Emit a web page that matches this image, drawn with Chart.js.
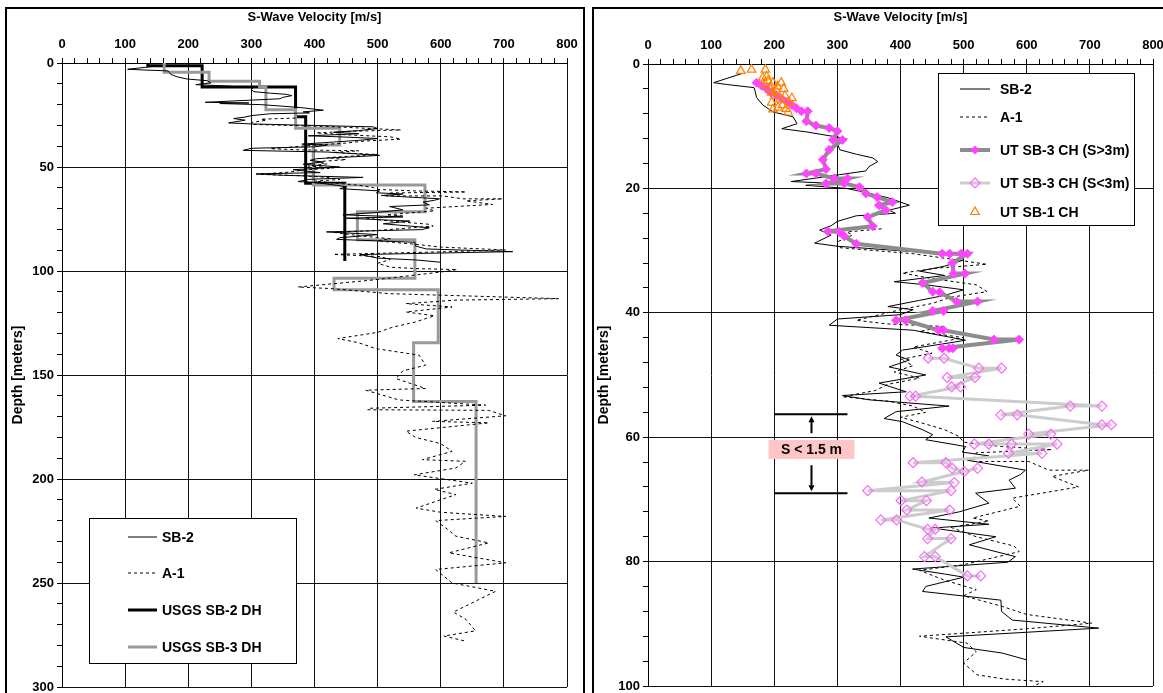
<!DOCTYPE html>
<html lang="en">
<head>
  <meta charset="UTF-8">
  <title>S-Wave Velocity profiles</title>
  <script src="https://cdn.jsdelivr.net/npm/chart.js"></script>
  <style>
    body { margin: 0; background: #fff; }
    #wrap { position: relative; width: 1163px; height: 693px; overflow: hidden; background: #fff; }
    .panel { position: absolute; top: 7px; height: 720px; border: 2px solid #000; }
    #p1 { left: 5px; width: 576px; }
    #p2 { left: 592px; width: 620px; }
    canvas { position: absolute; top: 0; }
    #c1 { left: 0; }
    #c2 { left: 588px; }
  </style>
</head>
<body>
  <div id="wrap">
    <div class="panel" id="p1"></div>
    <div class="panel" id="p2"></div>
    <canvas id="c1" width="588" height="693"></canvas>
    <canvas id="c2" width="575" height="693"></canvas>
  </div>

  <script>
    // tick labels
    const velMajor = [0, 100, 200, 300, 400, 500, 600, 700, 800];
    const depthMajorLeft = [0, 50, 100, 150, 200, 250, 300];
    const depthMajorRight = [0, 20, 40, 60, 80, 100];

    // SB-2 suspension log [velocity m/s, depth m]
    const sb2 = [
      [150, 1.5], [104, 3.0], [125, 3.3], [168, 3.8], [170, 4.5], [172, 5.4], [182, 6.6], [198, 7.7],
      [230, 8.5], [236, 9.6], [212, 10.4], [250, 10.9], [303, 11.8], [300, 12.8], [304, 13.8], [330, 14.5],
      [356, 15.1], [364, 15.7], [350, 16.5], [345, 17.2], [303, 17.8], [227, 18.9], [296, 19.2], [250, 19.5],
      [314, 20.0], [347, 20.7], [380, 21.5], [414, 22.7], [382, 23.5], [392, 24.0], [330, 24.4], [300, 25.3],
      [290, 26.0], [272, 26.7], [290, 27.5], [264, 28.8], [300, 29.3], [493, 30.7], [500, 31.5], [470, 32.5],
      [430, 33.3], [470, 34.0], [390, 35.0], [440, 35.5], [500, 36.3], [470, 37.2], [430, 38.0], [380, 39.0],
      [420, 39.5], [400, 40.3], [300, 41.0], [287, 42.0], [420, 42.8], [503, 44.4], [480, 44.8], [403, 46.0],
      [393, 46.8], [414, 47.6], [382, 48.7], [440, 50.0], [366, 51.3], [409, 52.7], [308, 53.3], [351, 54.0],
      [477, 55.0], [393, 55.9], [374, 57.0], [403, 57.5], [435, 58.8], [451, 59.6], [440, 60.4], [503, 61.5],
      [498, 62.4], [540, 63.0], [506, 63.7], [598, 65.3], [590, 66.0], [572, 66.9], [582, 68.2], [519, 69.0],
      [540, 70.6], [493, 72.0], [445, 73.0], [540, 74.0], [450, 74.6], [551, 76.0], [509, 77.3], [582, 79.2],
      [570, 80.1], [419, 81.2], [470, 82.0], [500, 82.5], [440, 84.0], [435, 84.8], [559, 86.2], [560, 88.0],
      [577, 89.4], [714, 90.7], [472, 92.1], [500, 93.8], [561, 94.7], [600, 95.8]
    ];

    // A-1 suspension log [velocity m/s, depth m]
    const a1 = [
      [370, 26.5], [315, 27.0], [324, 27.5], [300, 28.6], [300, 29.5], [420, 30.5], [537, 32.2], [460, 32.8],
      [403, 33.6], [450, 34.5], [520, 35.5], [537, 36.6], [480, 37.5], [450, 38.5], [400, 39.5], [330, 41.2],
      [380, 41.8], [470, 42.2], [430, 43.0], [500, 44.0], [420, 45.5], [450, 46.5], [400, 47.5], [420, 48.5],
      [390, 49.5], [430, 50.5], [380, 51.5], [360, 52.5], [308, 53.5], [380, 54.2], [420, 55.0], [440, 56.0],
      [400, 56.8], [430, 57.6], [470, 58.8], [493, 59.9], [500, 60.8], [560, 61.5], [640, 62.0], [520, 62.5],
      [514, 63.9], [603, 63.9], [635, 65.3], [698, 65.3], [640, 66.3], [682, 68.0], [577, 69.8], [590, 71.1],
      [514, 73.0], [540, 73.5], [480, 74.5], [520, 76.0], [580, 77.5], [588, 78.4], [500, 80.5], [430, 81.4],
      [470, 83.0], [520, 84.5], [500, 85.5], [561, 87.2], [600, 88.5], [703, 89.9], [600, 90.8], [430, 92.0],
      [505, 93.1], [520, 94.5], [500, 96.3], [521, 98.2], [566, 98.9], [626, 99.3], [600, 100.5], [487, 104.5],
      [374, 107.7], [429, 108.5], [518, 110.9], [587, 111.5], [787, 113.3], [624, 114.0], [545, 115.7],
      [618, 117.3], [545, 119.7], [590, 121.5], [560, 124.5], [524, 127.0], [500, 129.5], [437, 132.5],
      [470, 134.5], [497, 137.3], [566, 140.5], [576, 145.3], [540, 148.0], [529, 151.7], [576, 156.5],
      [481, 157.3], [534, 162.0], [671, 164.5], [487, 166.0], [484, 166.7], [676, 167.0], [703, 169.6],
      [587, 172.3], [676, 173.0], [545, 177.0], [560, 180.0], [600, 183.0], [618, 186.7], [571, 190.7],
      [639, 191.5], [624, 194.7], [558, 198.0], [650, 202.0], [590, 205.0], [624, 207.5], [561, 214.0],
      [600, 216.0], [703, 218.0], [592, 220.0], [610, 224.0], [624, 227.5], [676, 230.7], [613, 235.5],
      [703, 240.3], [592, 243.5], [618, 250.0], [687, 254.0], [640, 261.0], [620, 264.0], [640, 267.5],
      [655, 273.0], [605, 275.5], [640, 278.0]
    ];

    // USGS downhole layer models
    const usgsSb2Top = [0, 1.3, 11.5, 25.8, 57.8];
    const usgsSb2Bot = [1.3, 11.5, 25.8, 57.8, 95.2];
    const usgsSb2Vs = [136, 222, 370, 386, 448];

    const usgsSb3Top = [0, 4.5, 8.8, 11.5, 22.5, 31.4, 39.4, 58.7, 71.5, 85.0, 103.5, 109.0, 134.5, 162.8];
    const usgsSb3Bot = [4.5, 8.8, 11.5, 22.5, 31.4, 39.4, 58.7, 71.5, 85.0, 103.5, 109.0, 134.5, 162.8, 250.0];
    const usgsSb3Vs = [162, 233, 313, 323, 370, 440, 398, 575, 468, 559, 431, 596, 557, 656];

    // UT crosshole results [velocity m/s, depth m]
    const utSb3Wide = [
      [172, 3.0], [180, 3.5], [188, 4.0], [195, 4.6], [203, 5.0], [212, 5.6], [220, 6.1], [228, 6.6],
      [235, 7.1], [243, 7.6], [253, 7.6], [251, 9.2], [266, 9.9], [287, 10.3], [300, 10.8], [293, 12.2],
      [308, 12.2], [287, 13.8], [277, 15.4], [282, 16.9], [251, 17.6], [266, 17.6], [295, 18.4], [316, 18.4],
      [282, 19.2], [311, 19.2], [335, 19.8], [345, 20.8], [363, 21.4], [387, 22.2], [366, 22.7], [377, 23.5],
      [348, 24.6], [356, 26.1], [285, 26.9], [303, 27.0], [311, 27.7], [330, 28.9], [466, 30.5], [478, 30.5],
      [496, 30.5], [506, 30.5], [482, 32.0], [484, 33.7], [502, 33.7], [435, 35.2], [451, 36.6], [462, 36.7],
      [489, 38.2], [522, 38.2], [451, 39.7], [468, 39.7], [393, 41.2], [408, 41.2], [460, 42.8], [468, 42.8],
      [548, 44.3], [588, 44.3], [466, 45.7], [477, 45.7], [483, 45.7]
    ];
    const utSb3Close = [
      [444, 47.3], [469, 47.3], [524, 48.9], [560, 48.9], [474, 50.4], [518, 50.4], [481, 51.9], [495, 51.9],
      [415, 53.4], [424, 53.4], [719, 55.0], [669, 55.0], [559, 56.4], [585, 56.4], [719, 58.0], [734, 58.0],
      [603, 59.5], [638, 59.5], [517, 61.1], [540, 61.1], [576, 61.1], [648, 61.1], [571, 62.6], [624, 62.6],
      [420, 64.1], [472, 64.1], [482, 65.0], [501, 65.5], [522, 65.0], [434, 67.2], [485, 67.3], [348, 68.6],
      [480, 68.6], [401, 70.2], [441, 70.2], [410, 71.7], [478, 71.7], [369, 73.3], [394, 73.3], [443, 74.8],
      [455, 74.8], [443, 76.3], [480, 76.3], [438, 79.2], [455, 79.2], [506, 82.3], [527, 82.3]
    ];
    const utSb1 = [
      [147, 1.1], [164, 0.9], [186, 0.9], [188, 2.0], [182, 2.2], [190, 2.7], [185, 3.2], [198, 3.0],
      [211, 3.0], [193, 3.8], [205, 3.6], [215, 4.0], [203, 4.3], [196, 4.6], [201, 5.1], [217, 5.1],
      [228, 5.5], [209, 5.7], [196, 6.2], [224, 6.2], [213, 6.6], [206, 7.0], [219, 7.2], [198, 7.3], [222, 7.8]
    ];

    const FONT = '"Liberation Sans", Arial, sans-serif';

    function pts(list) {
      return list.map(p => ({ x: p[0], y: p[1] }));
    }

    function steps(tops, bots, vs) {
      const out = [];
      vs.forEach((v, i) => {
        out.push({ x: v, y: tops[i] });
        out.push({ x: v, y: bots[i] });
      });
      return out;
    }

    function drawMarker(ctx, style, x, y, r, fill, stroke) {
      ctx.beginPath();
      if (style === 'diamond') {
        ctx.moveTo(x, y - r); ctx.lineTo(x + r, y); ctx.lineTo(x, y + r); ctx.lineTo(x - r, y);
      } else {
        ctx.moveTo(x, y - r); ctx.lineTo(x + r * 0.87, y + r * 0.5); ctx.lineTo(x - r * 0.87, y + r * 0.5);
      }
      ctx.closePath();
      if (fill) { ctx.fillStyle = fill; ctx.fill(); }
      if (stroke) { ctx.strokeStyle = stroke; ctx.lineWidth = 1.2; ctx.stroke(); }
    }

    // legend drawn as a boxed panel inside the plot
    function boxLegend(box, sx0, sx1, tx, items) {
      return {
        id: 'boxLegend',
        afterDatasetsDraw(chart) {
          const ctx = chart.ctx;
          ctx.save();
          ctx.fillStyle = '#fff';
          ctx.fillRect(box.x, box.y, box.w, box.h);
          ctx.strokeStyle = '#000';
          ctx.lineWidth = 1;
          ctx.strokeRect(box.x + 0.5, box.y + 0.5, box.w, box.h);
          items.forEach(it => {
            if (it.line) {
              ctx.beginPath();
              ctx.setLineDash(it.line.dash || []);
              ctx.strokeStyle = it.line.color;
              ctx.lineWidth = it.line.width;
              ctx.moveTo(sx0, it.y);
              ctx.lineTo(sx1, it.y);
              ctx.stroke();
              ctx.setLineDash([]);
            }
            if (it.marker) {
              drawMarker(ctx, it.marker.style, (sx0 + sx1) / 2, it.y, it.marker.r, it.marker.fill, it.marker.stroke);
            }
            ctx.fillStyle = '#000';
            ctx.font = 'bold 14px ' + FONT;
            ctx.textBaseline = 'middle';
            ctx.textAlign = 'left';
            ctx.fillText(it.label, tx, it.y + 1);
          });
          ctx.restore();
        }
      };
    }

    function axes(depthMax, depthStep, depthMajor, yWidth, xHeight, titlePad) {
      return {
        x: {
          type: 'linear', position: 'top', min: 0, max: 800,
          afterFit: s => { s.height = xHeight; s.paddingLeft = 0; s.paddingRight = 0; },
          title: { display: true, text: 'S-Wave Velocity [m/s]', color: '#000', font: { family: FONT, size: 13, weight: 'bold' }, padding: { top: 10, bottom: 0 } },
          ticks: {
            stepSize: 20, autoSkip: false, maxRotation: 0, color: '#000', padding: 6,
            font: { family: FONT, size: 13, weight: 'bold' },
            callback: v => velMajor.includes(v) ? String(v) : ''
          },
          grid: {
            color: c => velMajor.includes(c.tick.value) ? '#111' : 'rgba(0,0,0,0)',
            tickColor: '#000', tickLength: 5, lineWidth: 1
          },
          border: { display: true, color: '#000', width: 1 }
        },
        y: {
          type: 'linear', reverse: true, min: 0, max: depthMax,
          afterFit: s => { s.width = yWidth; s.paddingTop = 0; s.paddingBottom = 0; },
          title: { display: true, text: 'Depth [meters]', color: '#000', font: { family: FONT, size: 14, weight: 'bold' }, padding: { top: titlePad, bottom: 0 } },
          ticks: {
            stepSize: depthStep, autoSkip: false, color: '#000', padding: 3,
            font: { family: FONT, size: 13, weight: 'bold' },
            callback: v => depthMajor.includes(v) ? String(v) : ''
          },
          grid: {
            color: c => depthMajor.includes(c.tick.value) ? '#111' : 'rgba(0,0,0,0)',
            tickColor: '#000', tickLength: 5, lineWidth: 1
          },
          border: { display: true, color: '#000', width: 1 }
        }
      };
    }

    function lineSet(data, color, width, dash) {
      return {
        data: data, showLine: true, borderColor: color, borderWidth: width, borderDash: dash || [],
        pointRadius: 0, fill: false, tension: 0
      };
    }

    const baseOpts = {
      responsive: false, animation: false, events: [],
      plugins: { legend: { display: false }, tooltip: { enabled: false } }
    };

    // left panel: full profile to 300 m
    new Chart(document.getElementById('c1'), {
      type: 'scatter',
      data: {
        datasets: [
          lineSet(pts(sb2), '#000', 1),
          lineSet(pts(a1), '#000', 1, [3, 3]),
          lineSet(steps(usgsSb3Top, usgsSb3Bot, usgsSb3Vs), '#999', 3),
          lineSet(steps(usgsSb2Top, usgsSb2Bot, usgsSb2Vs), '#000', 3)
        ]
      },
      options: Object.assign({}, baseOpts, {
        layout: { padding: { left: 0, top: 0, right: 21, bottom: 6 } },
        scales: axes(300, 10, depthMajorLeft, 62, 63, 10)
      }),
      plugins: [boxLegend({ x: 89, y: 518, w: 207, h: 145 }, 128, 157, 162, [
        { label: 'SB-2', y: 537, line: { color: '#000', width: 1 } },
        { label: 'A-1', y: 573, line: { color: '#000', width: 1, dash: [3, 3] } },
        { label: 'USGS SB-2 DH', y: 610, line: { color: '#000', width: 3 } },
        { label: 'USGS SB-3 DH', y: 647, line: { color: '#999', width: 3 } }
      ])]
    });

    // annotation of the close-spacing interval
    const spacingNote = {
      id: 'spacingNote',
      afterDatasetsDraw(chart) {
        const { ctx, scales: { x, y } } = chart;
        const x0 = x.getPixelForValue(200), x1 = x.getPixelForValue(316);
        const xm = x.getPixelForValue(259);
        const yt = y.getPixelForValue(56.3), yb = y.getPixelForValue(69.0);
        const ym = y.getPixelForValue(61.9);
        ctx.save();
        ctx.strokeStyle = '#000';
        ctx.fillStyle = '#000';
        ctx.lineWidth = 2;
        ctx.beginPath();
        ctx.moveTo(x0, yt); ctx.lineTo(x1, yt);
        ctx.moveTo(x0, yb); ctx.lineTo(x1, yb);
        ctx.moveTo(xm, yt + 6); ctx.lineTo(xm, yt + 19);
        ctx.moveTo(xm, yb - 28); ctx.lineTo(xm, yb - 8);
        ctx.stroke();
        ctx.beginPath();
        ctx.moveTo(xm, yt + 2); ctx.lineTo(xm + 3, yt + 8); ctx.lineTo(xm - 3, yt + 8); ctx.closePath();
        ctx.moveTo(xm, yb - 2); ctx.lineTo(xm + 3, yb - 8); ctx.lineTo(xm - 3, yb - 8); ctx.closePath();
        ctx.fill();
        ctx.fillStyle = '#ffc6c6';
        ctx.fillRect(xm - 43, ym - 9, 86, 19);
        ctx.fillStyle = '#000';
        ctx.font = 'bold 14px ' + FONT;
        ctx.textAlign = 'center';
        ctx.textBaseline = 'middle';
        ctx.fillText('S < 1.5 m', xm, ym + 1);
        ctx.restore();
      }
    };

    // right panel: upper 100 m with crosshole data
    new Chart(document.getElementById('c2'), {
      type: 'scatter',
      data: {
        datasets: [
          {
            data: pts(utSb1), showLine: false, pointStyle: 'triangle', pointRadius: 5,
            pointBackgroundColor: 'rgba(0,0,0,0)', pointBorderColor: '#ff8000', pointBorderWidth: 1.2
          },
          {
            data: pts(utSb3Wide), showLine: true, borderColor: '#8c8c8c', borderWidth: 4, tension: 0,
            pointStyle: 'rectRot', pointRadius: 4.5, pointBackgroundColor: '#ff44ff', pointBorderColor: '#ff44ff', pointBorderWidth: 1
          },
          {
            data: pts(utSb3Close), showLine: true, borderColor: '#cccccc', borderWidth: 3, tension: 0,
            pointStyle: 'rectRot', pointRadius: 5, pointBackgroundColor: 'rgba(0,0,0,0)', pointBorderColor: '#ff66ff', pointBorderWidth: 1.2
          },
          lineSet(pts(sb2), '#000', 1),
          lineSet(pts(a1), '#000', 1, [3, 3])
        ]
      },
      options: Object.assign({}, baseOpts, {
        layout: { padding: { left: 0, top: 0, right: 10, bottom: 7 } },
        scales: axes(100, 4, depthMajorRight, 60, 64, 8)
      }),
      plugins: [spacingNote, boxLegend({ x: 350, y: 73, w: 196, h: 152 }, 372, 402, 412, [
        { label: 'SB-2', y: 89, line: { color: '#000', width: 1 } },
        { label: 'A-1', y: 117, line: { color: '#000', width: 1, dash: [3, 3] } },
        { label: 'UT SB-3 CH (S>3m)', y: 150, line: { color: '#8c8c8c', width: 4 }, marker: { style: 'diamond', r: 4.5, fill: '#ff44ff' } },
        { label: 'UT SB-3 CH (S<3m)', y: 183, line: { color: '#cccccc', width: 3 }, marker: { style: 'diamond', r: 5, stroke: '#ff66ff' } },
        { label: 'UT SB-1 CH', y: 212, marker: { style: 'triangle', r: 5, stroke: '#ff8000' } }
      ])]
    });
  </script>
</body>
</html>
